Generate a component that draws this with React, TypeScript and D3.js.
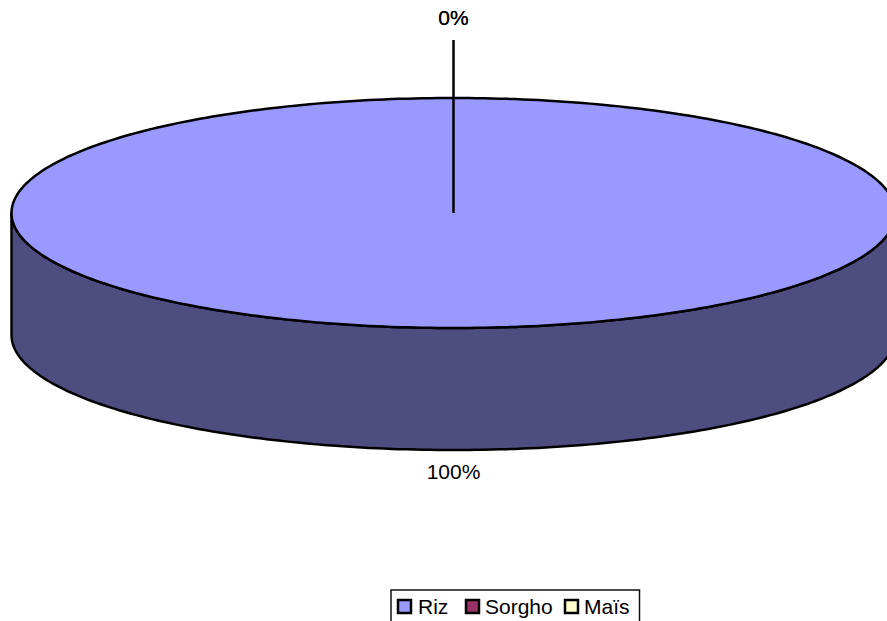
import React from "react";
import * as d3 from "d3";

const categories = ["Riz", "Sorgho", "Maïs"];
const shares = [100, 0, 0];
const topColors = ["#9999FF", "#993366", "#FFFFCC"];
const sideColors = ["#4D4D7F", "#4D1A33", "#7F7F66"];

const WIDTH = 887;
const HEIGHT = 621;
const CX = 453.5;
const CY = 213;
const RX = 442;
const RY = 115;
const DEPTH = 122;

const pieAngles = d3.pie<number>().sort(null)(shares);

// Screen point on the tilted disc for a pie angle measured clockwise from the top.
const rimX = d3.scaleLinear().domain([-1, 1]).range([CX - RX, CX + RX]);
const rimY = d3.scaleLinear().domain([-1, 1]).range([CY - RY, CY + RY]);
const rimPoint = (a: number, drop = 0): [number, number] => [
  rimX(Math.sin(a)),
  rimY(-Math.cos(a)) + drop,
];

const rimLine = d3.line<[number, number]>().curve(d3.curveLinear);

function arcPoints(a0: number, a1: number, drop = 0): [number, number][] {
  const steps = Math.max(2, Math.ceil(((a1 - a0) / (2 * Math.PI)) * 360));
  return d3.range(steps + 1).map((i) => rimPoint(a0 + ((a1 - a0) * i) / steps, drop));
}

// The wall is only visible on the front half of the rim (3 o'clock to 9 o'clock).
function wallPath(a0: number, a1: number): string | null {
  const from = Math.max(a0, Math.PI / 2);
  const to = Math.min(a1, (3 * Math.PI) / 2);
  if (to <= from) return null;
  const upper = arcPoints(from, to);
  const lower = arcPoints(from, to, DEPTH).reverse();
  return rimLine([...upper, ...lower]) + "Z";
}

function topPath(a0: number, a1: number): string {
  const pts = arcPoints(a0, a1);
  return rimLine([[CX, CY], ...pts]) + "Z";
}

const FONT = "'Liberation Sans', Arial, sans-serif";

const legendX = d3
  .scaleOrdinal<string, number>()
  .domain(categories)
  .range([398, 466, 565]);
const legendTextX = d3
  .scaleOrdinal<string, number>()
  .domain(categories)
  .range([418, 485, 584]);

export default function App() {
  return (
    <svg
      width={WIDTH}
      height={HEIGHT}
      viewBox={`0 0 ${WIDTH} ${HEIGHT}`}
      style={{ position: "absolute", left: 0, top: 0, background: "#fff" }}
      fontFamily={FONT}
      fontSize={21}
    >
      {/* Side wall of the disc */}
      {pieAngles.map((d, i) => {
        const p = wallPath(d.startAngle, d.endAngle);
        return p ? (
          <path key={i} d={p} fill={sideColors[i]} stroke="#000" strokeWidth={2.5} strokeLinejoin="round" />
        ) : null;
      })}

      {/* Top face of the disc */}
      {pieAngles.map((d, i) =>
        d.endAngle > d.startAngle ? (
          <path key={i} d={topPath(d.startAngle, d.endAngle)} fill={topColors[i]} stroke="none" />
        ) : null
      )}
      <path
        d={rimLine(arcPoints(0, 2 * Math.PI)) + "Z"}
        fill="none"
        stroke="#000"
        strokeWidth={2.5}
      />

      {/* Zero-size slices collapse to one radius, extended as the label leader */}
      <line x1={CX} y1={CY} x2={CX} y2={40} stroke="#000" strokeWidth={2.5} />

      {/* One label per slice; the two empty slices print on the same spot */}
      {shares.map((s, i) =>
        s === 0 ? (
          <text key={i} x={CX} y={25} textAnchor="middle" fill="#000">
            {`${s}%`}
          </text>
        ) : (
          <text key={i} x={CX} y={479} textAnchor="middle" fill="#000">
            {`${s}%`}
          </text>
        )
      )}

      {/* Legend, cut off by the bottom edge of the canvas */}
      <rect x={391} y={590} width={248.5} height={40} fill="#fff" stroke="#111" strokeWidth={1.5} />
      {categories.map((c, i) => (
        <g key={c}>
          <rect
            x={legendX(c)}
            y={600}
            width={13}
            height={13}
            fill={topColors[i]}
            stroke="#000"
            strokeWidth={2.5}
          />
          <text x={legendTextX(c)} y={614} fill="#000">
            {c}
          </text>
        </g>
      ))}
    </svg>
  );
}
